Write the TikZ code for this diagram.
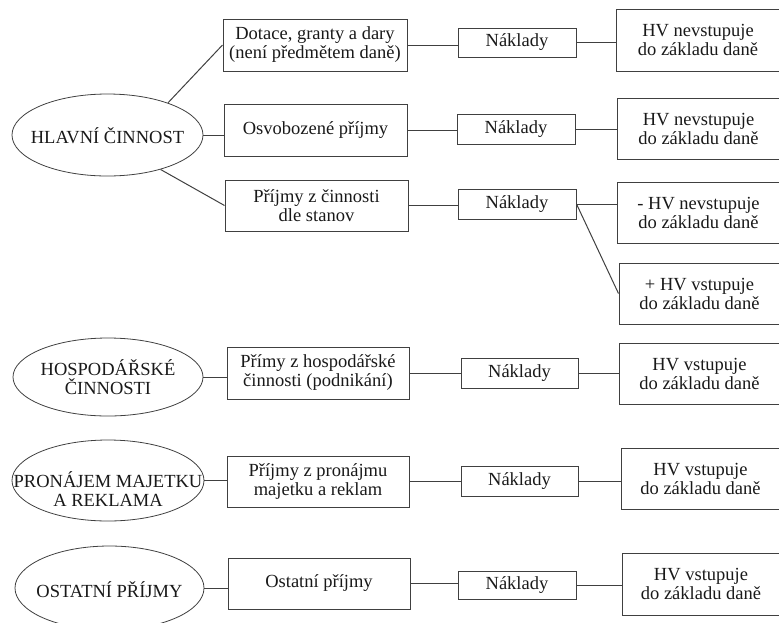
\documentclass[tikz,border=0pt]{standalone}
\usepackage{fontspec}
\setmainfont{Liberation Serif}
\usetikzlibrary{shapes.geometric}
\begin{document}
\begin{tikzpicture}[x=1pt,y=-1pt,
  every node/.style={font=\fontsize{18.5}{19}\selectfont, align=center, inner sep=0pt, text=black!90},
  bx/.style={draw=black!75, line width=1pt, rectangle},
  el/.style={draw=black!75, line width=0.8pt, ellipse},
  ln/.style={draw=black!75, line width=1pt}]
\useasboundingbox (0,0) rectangle (779,622);
% ellipses
\node[el, minimum width=191pt, minimum height=82pt] (e1) at (107.5,135) {};
\node (t1) at (107.5,136) {HLAVNÍ ČINNOST};
\node[el, minimum width=190pt, minimum height=78pt] (e2) at (108,377) {};
\node (t2) at (108,377) {HOSPODÁŘSKÉ\\ČINNOSTI};
\node[el, minimum width=192pt, minimum height=81pt] (e3) at (108,480.5) {};
\node (t3) at (108,489) {PRONÁJEM MAJETKU\\A REKLAMA};
\node[el, minimum width=189pt, minimum height=84pt] (e4) at (109.5,588) {};
\node (t4) at (109.5,590) {OSTATNÍ PŘÍJMY};
% income boxes
\node[bx, minimum width=184pt, minimum height=52pt] (d1) at (315,45) {Dotace, granty a dary\\(není předmětem daně)};
\node[bx, minimum width=183pt, minimum height=52pt] (d2) at (315.5,130) {Osvobozené příjmy};
\node[bx, minimum width=183pt, minimum height=51pt] (d3) at (316.5,205.5) {Příjmy z činnosti\\dle stanov};
\node[bx, minimum width=182pt, minimum height=52pt] (d4) at (318,373) {Přímy z hospodářské\\činnosti (podnikání)};
\node[bx, minimum width=182pt, minimum height=51pt] (d5) at (318,481.5) {Příjmy z pronájmu\\majetku a reklam};
\node[bx, minimum width=182pt, minimum height=51pt] (d6) at (319,583.5) {Ostatní příjmy};
% cost boxes
\node[bx, minimum width=118pt, minimum height=29pt] (n1) at (517,42.5) {Náklady};
\node[bx, minimum width=118pt, minimum height=30pt] (n2) at (516,129) {Náklady};
\node[bx, minimum width=118pt, minimum height=30pt] (n3) at (517,204) {Náklady};
\node[bx, minimum width=117pt, minimum height=30pt] (n4) at (519.5,373) {Náklady};
\node[bx, minimum width=117pt, minimum height=30pt] (n5) at (519.5,481) {Náklady};
\node[bx, minimum width=118pt, minimum height=28pt] (n6) at (517,585) {Náklady};
% result boxes
\node[bx, minimum width=164pt, minimum height=62pt] (h1) at (698,40) {HV nevstupuje\\do základu daně};
\node[bx, minimum width=163pt, minimum height=61pt] (h2) at (698.5,128.5) {HV nevstupuje\\do základu daně};
\node[bx, minimum width=163pt, minimum height=61pt] (h3) at (698.5,212.5) {- HV nevstupuje\\do základu daně};
\node[bx, minimum width=161pt, minimum height=61pt] (h4) at (699.5,293.5) {+ HV vstupuje\\do základu daně};
\node[bx, minimum width=161pt, minimum height=61pt] (h5) at (699.5,373.5) {HV vstupuje\\do základu daně};
\node[bx, minimum width=159pt, minimum height=61pt] (h6) at (700.5,478.5) {HV vstupuje\\do základu daně};
\node[bx, minimum width=158pt, minimum height=62pt] (h7) at (701,584) {HV vstupuje\\do základu daně};
% connectors: ellipse to income
\draw[ln] (e1.28) -- (d1.west);
\draw[ln] (e1.east) -- (e1.east -| d2.west);
\draw[ln] (e1.-33) -- (d3.west);
\draw[ln] (e2.east) -- (e2.east -| d4.west);
\draw[ln] (e3.east) -- (e3.east -| d5.west);
\draw[ln] (e4.east) -- (e4.east -| d6.west);
% income to costs
\draw[ln] (d1.east) -- (d1.east -| n1.west);
\draw[ln] (d2.east) -- (d2.east -| n2.west);
\draw[ln] (d3.east) -- (d3.east -| n3.west);
\draw[ln] (d4.east) -- (d4.east -| n4.west);
\draw[ln] (d5.east) -- (d5.east -| n5.west);
\draw[ln] (d6.east) -- (d6.east -| n6.west);
% costs to results
\draw[ln] (n1.east) -- (n1.east -| h1.west);
\draw[ln] (n2.east) -- (n2.east -| h2.west);
\draw[ln] (n3.east) -- (n3.east -| h3.west);
\draw[ln] (n3.east) -- (h4.west);
\draw[ln] (n4.east) -- (n4.east -| h5.west);
\draw[ln] (n5.east) -- (n5.east -| h6.west);
\draw[ln] (n6.east) -- (n6.east -| h7.west);
\end{tikzpicture}
\end{document}
